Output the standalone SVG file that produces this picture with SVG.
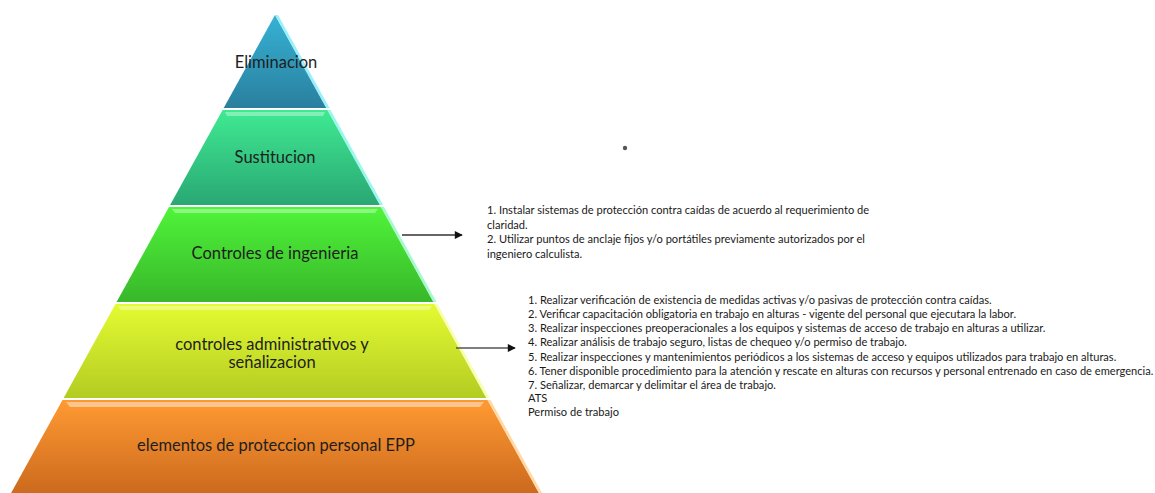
<svg xmlns="http://www.w3.org/2000/svg" width="1155" height="493" viewBox="0 0 1155 493">
<style>
.lbl{font-family:Lato,"Open Sans","Liberation Sans",sans-serif;font-size:16.5px;fill:#1e1e1e;text-anchor:middle}
.note{font-family:Lato,"Open Sans","Liberation Sans",sans-serif;font-size:11.1px;fill:#1a1a1a}
.hl{fill:#ffffff;opacity:0.35}
.edge{opacity:0.8}
.conn{stroke:#333;stroke-width:1.3;fill:none}
</style>
<defs>
<linearGradient id="gBlue" x1="0" y1="0" x2="0" y2="1"><stop offset="0" stop-color="#36b2d4"/><stop offset="1" stop-color="#2a7f9e"/></linearGradient>
<linearGradient id="gTeal" x1="0" y1="0" x2="0" y2="1"><stop offset="0" stop-color="#3fea92"/><stop offset="1" stop-color="#2aa774"/></linearGradient>
<linearGradient id="gGreen" x1="0" y1="0" x2="0" y2="1"><stop offset="0" stop-color="#50f43a"/><stop offset="1" stop-color="#38b72a"/></linearGradient>
<linearGradient id="gLime" x1="0" y1="0" x2="0" y2="1"><stop offset="0" stop-color="#e4fb32"/><stop offset="1" stop-color="#b3cc22"/></linearGradient>
<linearGradient id="gOrange" x1="0" y1="0" x2="0" y2="1"><stop offset="0" stop-color="#ff9a32"/><stop offset="1" stop-color="#cc6a1e"/></linearGradient>
<marker id="arr" viewBox="0 0 10 10" refX="9" refY="5" markerWidth="9" markerHeight="8" markerUnits="userSpaceOnUse" orient="auto"><path d="M0,0 L10,5 L0,10 z" fill="#111"/></marker>
</defs>

<g id="eliminacion">
<polygon points="275,15 326.3,108 223.7,108" fill="url(#gBlue)"/>
<polygon class="edge" points="275,15 278,15 329.5,108 326.3,108" fill="#80ecfa"/>
<text class="lbl" x="276" y="68">Eliminacion</text>
</g>

<g id="sustitucion">
<polygon points="222.6,110 327.4,110 379.9,205 170.1,205" fill="url(#gTeal)"/>
<polygon class="hl" points="225,112 325,112 323,116 227,116"/>
<polygon class="edge" points="327.4,110 330.5,110 383,205 379.9,205" fill="#7ff5e8"/>
<text class="lbl" x="275" y="163">Sustitucion</text>
</g>

<g id="ingenieria">
<polygon points="169,207 381,207 433.4,302 116.6,302" fill="url(#gGreen)"/>
<polygon class="hl" points="172,209 378,209 375,213 175,213"/>
<polygon class="edge" points="381,207 384,207 436.5,302 433.4,302" fill="#8ff7c0"/>
<text class="lbl" x="275" y="259">Controles de ingenieria</text>
</g>

<g id="administrativos">
<polygon points="115.5,304 434.5,304 486.4,398 63.6,398" fill="url(#gLime)"/>
<polygon class="hl" points="118,306 432,306 429,310 121,310"/>
<polygon class="edge" points="434.5,304 437.5,304 489.5,398 486.4,398" fill="#f6ffa0"/>
<text class="lbl" x="272" y="350">controles administrativos y</text>
<text class="lbl" x="272" y="368">señalizacion</text>
</g>

<g id="epp">
<polygon points="62.5,400 487.5,400 538.9,493 11.1,493" fill="url(#gOrange)"/>
<polygon class="hl" points="66,402 484,402 480,407 70,407" style="opacity:0.45"/>
<polygon class="edge" points="487.5,400 490.5,400 542,493 538.9,493" fill="#ffd090"/>
<text class="lbl" x="276" y="451">elementos de proteccion personal EPP</text>
</g>

<g id="connectors">
<line class="conn" x1="402" y1="235" x2="462" y2="235" marker-end="url(#arr)"/>
<line class="conn" x1="456" y1="348" x2="515" y2="348" marker-end="url(#arr)" style="stroke:#555"/>
</g>

<g id="note-ingenieria">
<text class="note" x="487" y="214">1. Instalar sistemas de protección contra caídas de acuerdo al requerimiento de</text>
<text class="note" x="487" y="228.5">claridad.</text>
<text class="note" x="487" y="243">2. Utilizar puntos de anclaje fijos y/o portátiles previamente autorizados por el</text>
<text class="note" x="487" y="257.5">ingeniero calculista.</text>
</g>

<g id="note-administrativos">
<text class="note" x="528" y="304">1. Realizar verificación de existencia de medidas activas y/o pasivas de protección contra caídas.</text>
<text class="note" x="528" y="318">2. Verificar capacitación obligatoria en trabajo en alturas - vigente del personal que ejecutara la labor.</text>
<text class="note" x="528" y="332">3. Realizar inspecciones preoperacionales a los equipos y sistemas de acceso de trabajo en alturas a utilizar.</text>
<text class="note" x="528" y="346">4. Realizar análisis de trabajo seguro, listas de chequeo y/o permiso de trabajo.</text>
<text class="note" x="528" y="360.5">5. Realizar inspecciones y mantenimientos periódicos a los sistemas de acceso y equipos utilizados para trabajo en alturas.</text>
<text class="note" x="528" y="374.5">6. Tener disponible procedimiento para la atención y rescate en alturas con recursos y personal entrenado en caso de emergencia.</text>
<text class="note" x="528" y="388.5">7. Señalizar, demarcar y delimitar el área de trabajo.</text>
<text class="note" x="528" y="402">ATS</text>
<text class="note" x="528" y="416">Permiso de trabajo</text>
</g>

<circle cx="625" cy="148" r="2.2" fill="#555"/>
</svg>
